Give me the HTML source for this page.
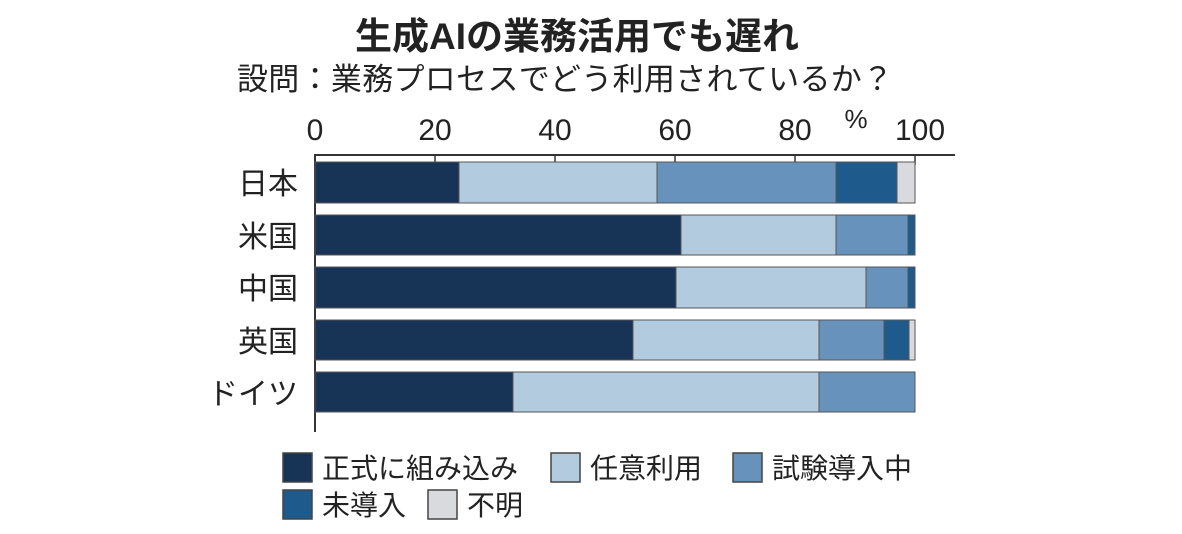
<!DOCTYPE html>
<html><head><meta charset="utf-8"><style>
body{margin:0;width:1182px;height:534px;background:#fff;overflow:hidden;font-family:"Liberation Sans","Noto Sans CJK JP",sans-serif;color:#222}
.a{position:absolute}
.t{position:absolute;white-space:nowrap}
</style></head><body>
<div class="t" style="left:355px;top:6px;font-size:37px;font-weight:bold;letter-spacing:0px">生成AIの業務活用でも遅れ</div>
<div class="t" style="left:237px;top:54px;font-size:31px;letter-spacing:0.3px">設問：業務プロセスでどう利用されているか？</div>
<svg class="a" style="left:0;top:0" width="1182" height="534">
<g font-family="Liberation Sans Narrow, Liberation Sans, sans-serif" font-size="30" fill="#222" text-anchor="middle">
<text x="315" y="140" transform="">0</text><text x="435" y="140">20</text><text x="555" y="140">40</text><text x="675" y="140">60</text><text x="795" y="140">80</text><text x="920" y="140">100</text>
<text x="856" y="128" font-size="26">%</text>
</g>
<line x1="315" y1="155" x2="955" y2="155" stroke="#333" stroke-width="2"/>
<line x1="315" y1="154" x2="315" y2="432" stroke="#333" stroke-width="2"/>
<g stroke="#333" stroke-width="1.5"><line x1="435" y1="155" x2="435" y2="165"/><line x1="555" y1="155" x2="555" y2="165"/><line x1="675" y1="155" x2="675" y2="165"/><line x1="795" y1="155" x2="795" y2="165"/><line x1="915" y1="155" x2="915" y2="165"/></g>
<g stroke="#555" stroke-width="1">
<rect x="315" y="162" width="144" height="41" fill="#173356"/><rect x="459" y="162" width="198" height="41" fill="#b3cbde"/><rect x="657" y="162" width="179" height="41" fill="#6792bb"/><rect x="836" y="162" width="61" height="41" fill="#1f5a8c"/><rect x="897" y="162" width="18" height="41" fill="#d8dadd"/>
<rect x="315" y="215" width="366" height="40" fill="#173356"/><rect x="681" y="215" width="155" height="40" fill="#b3cbde"/><rect x="836" y="215" width="72" height="40" fill="#6792bb"/><rect x="908" y="215" width="7" height="40" fill="#1f5a8c"/>
<rect x="315" y="267" width="361" height="41" fill="#173356"/><rect x="676" y="267" width="190" height="41" fill="#b3cbde"/><rect x="866" y="267" width="42" height="41" fill="#6792bb"/><rect x="908" y="267" width="7" height="41" fill="#1f5a8c"/>
<rect x="315" y="320" width="318" height="40" fill="#173356"/><rect x="633" y="320" width="186" height="40" fill="#b3cbde"/><rect x="819" y="320" width="65" height="40" fill="#6792bb"/><rect x="884" y="320" width="25" height="40" fill="#1f5a8c"/><rect x="909" y="320" width="6" height="40" fill="#d8dadd"/>
<rect x="315" y="372" width="198" height="40" fill="#173356"/><rect x="513" y="372" width="306" height="40" fill="#b3cbde"/><rect x="819" y="372" width="96" height="40" fill="#6792bb"/>
</g>
<g font-size="30" fill="#222" text-anchor="end" font-family="Liberation Sans, Noto Sans CJK JP, sans-serif">
<text x="298" y="194">日本</text><text x="298" y="247">米国</text><text x="298" y="299">中国</text><text x="298" y="352">英国</text><text x="298" y="404">ドイツ</text>
</g>
<g stroke="#444" stroke-width="1.5">
<rect x="283" y="453" width="29" height="29" fill="#173356"/><rect x="551" y="453" width="29" height="29" fill="#b3cbde"/><rect x="733" y="453" width="29" height="29" fill="#6792bb"/>
<rect x="283" y="490" width="29" height="29" fill="#1f5a8c"/><rect x="428" y="490" width="29" height="29" fill="#d8dadd"/>
</g>
<g font-size="28" fill="#222" font-family="Liberation Sans, Noto Sans CJK JP, sans-serif">
<text x="322" y="478">正式に組み込み</text><text x="590" y="478">任意利用</text><text x="772" y="478">試験導入中</text>
<text x="322" y="515">未導入</text><text x="467" y="515">不明</text>
</g>
</svg>
</body></html>
